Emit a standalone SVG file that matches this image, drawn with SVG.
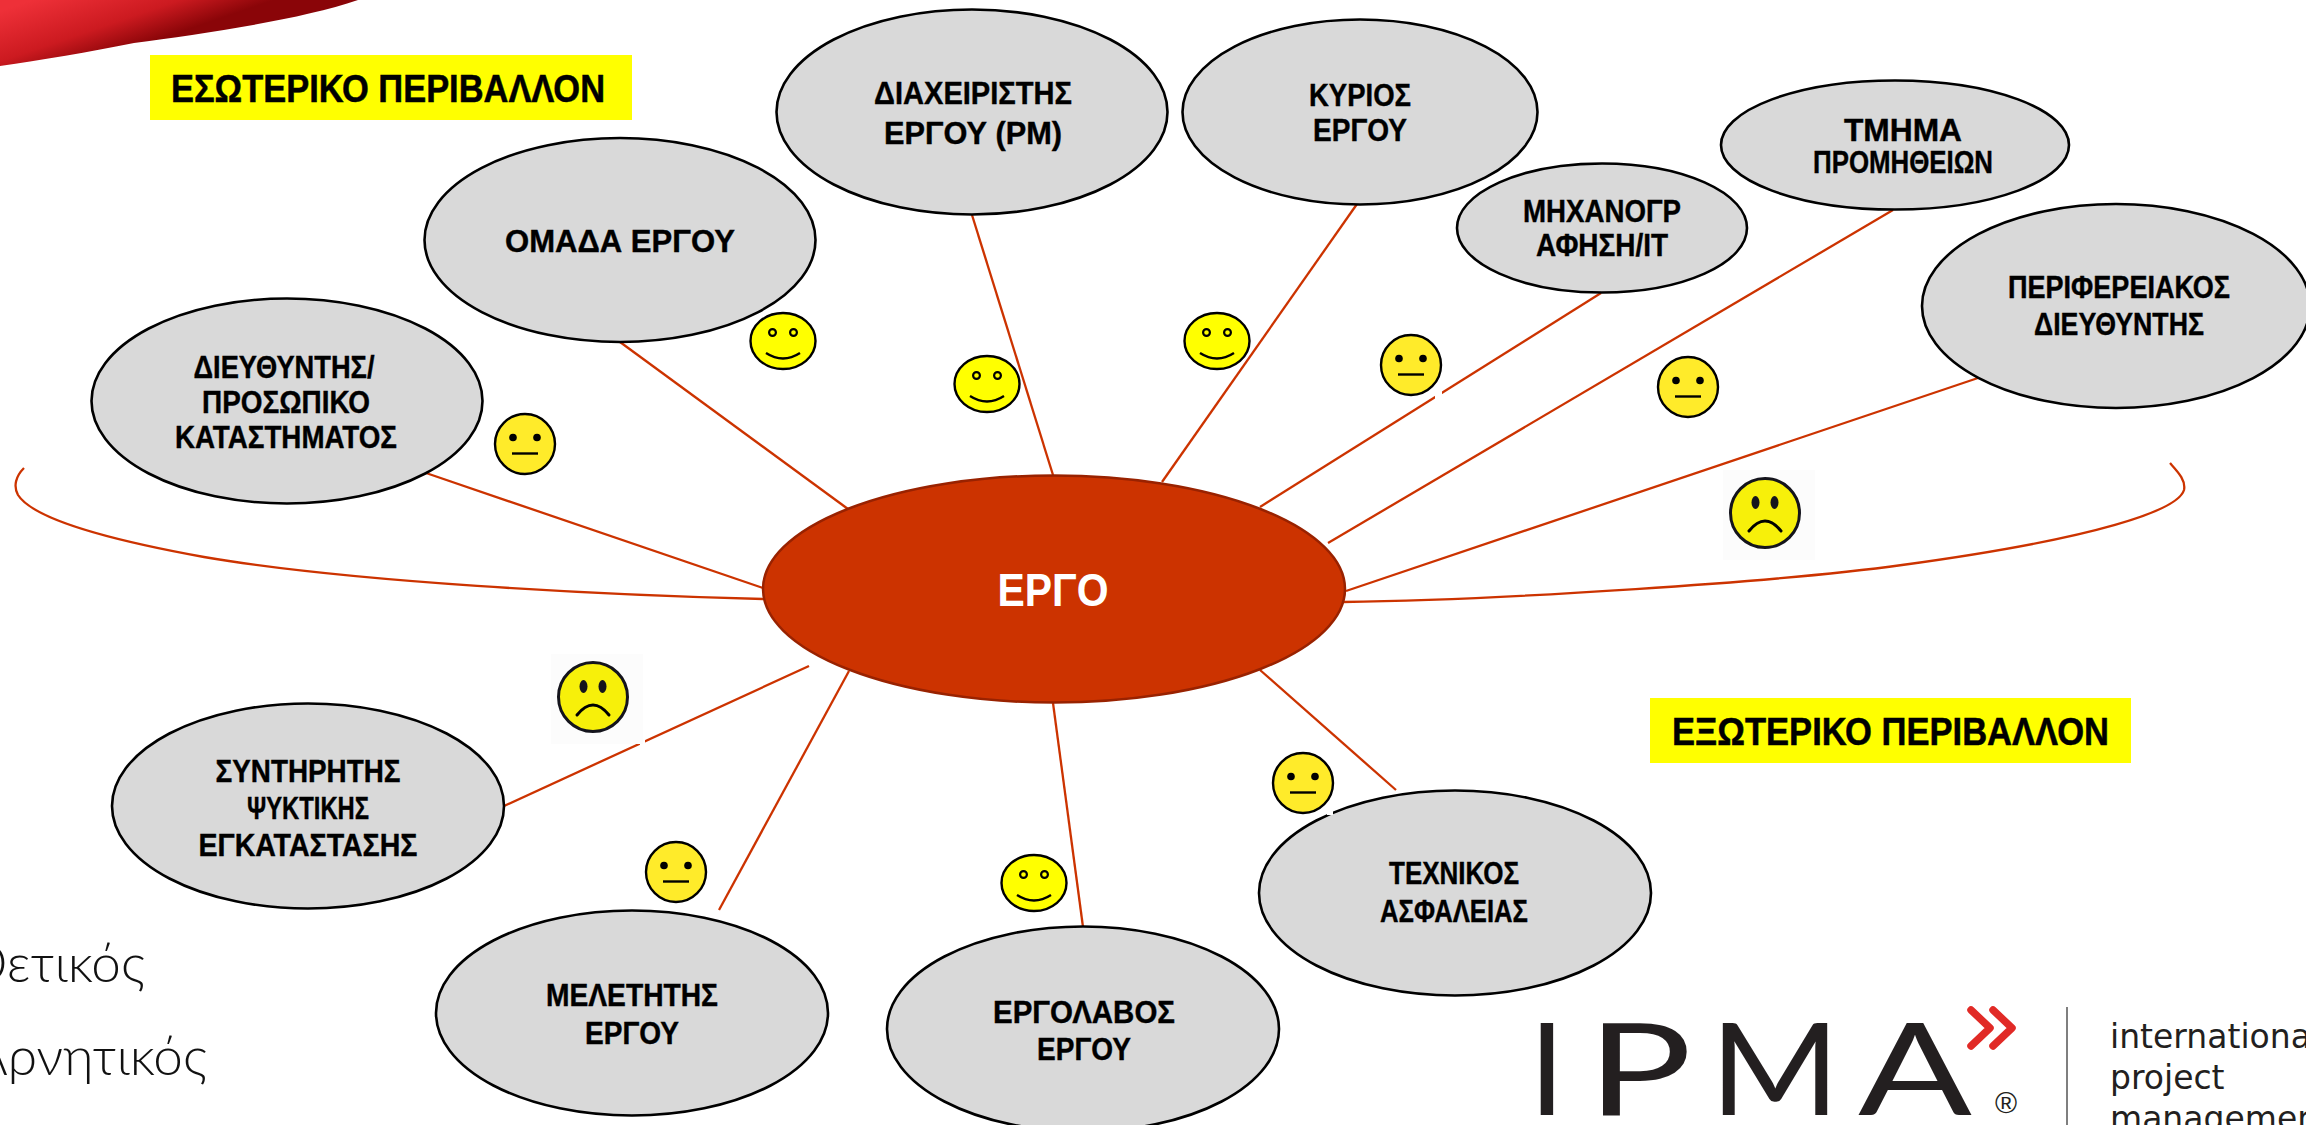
<svg xmlns="http://www.w3.org/2000/svg" width="2306" height="1125" viewBox="0 0 2306 1125">
<style>
.n{fill:#d9d9d9;stroke:#000;stroke-width:2.6}
.t{font-family:"Liberation Sans",Arial,sans-serif;font-weight:700;font-size:32px;fill:#000;stroke:#000;stroke-width:.4;text-anchor:middle}
.b{font-family:"Liberation Sans",Arial,sans-serif;font-weight:700;font-size:38px;fill:#000;stroke:#000;stroke-width:.5}
.c{stroke:#cc3300;stroke-width:2.3;fill:none}
.l{font-family:Lato,"Open Sans",sans-serif;font-weight:300;font-size:53px;fill:#111;text-anchor:end}
.k{stroke:#000;fill:none}
</style>
<defs>
<linearGradient id="sw" gradientUnits="userSpaceOnUse" x1="150" y1="-40" x2="178" y2="42">
<stop offset="0" stop-color="#ee3038"/><stop offset=".55" stop-color="#cc1a20"/><stop offset=".9" stop-color="#8a0508"/><stop offset="1" stop-color="#8a0508"/>
</linearGradient>
<g id="neutral"><circle r="30" fill="#ffeb2a" stroke="#000" stroke-width="2.4"/><circle cx="-12" cy="-6.5" r="3.8"/><circle cx="12" cy="-6.5" r="3.8"/><path class="k" stroke-width="2.4" d="M-13,9.5H13"/></g>
<g id="happy"><ellipse rx="32.5" ry="28" fill="#ffff00" stroke="#000" stroke-width="2.4"/><circle cx="-10.5" cy="-8.5" r="3.4" class="k" stroke-width="2.2"/><circle cx="10.5" cy="-8.5" r="3.4" class="k" stroke-width="2.2"/><path class="k" stroke-width="2.4" d="M-17,12Q0,23 17,12"/></g>
<g id="sad"><rect x="-42" y="-43" width="92" height="90" fill="#fcfcfc"/><circle r="34.5" fill="#f7f00a" stroke="#14141c" stroke-width="3"/><ellipse cx="-9.5" cy="-10.5" rx="4" ry="6.5" fill="#14141c"/><ellipse cx="9.5" cy="-10.5" rx="4" ry="6.5" fill="#14141c"/><path class="k" stroke="#14141c" stroke-width="3" stroke-linecap="round" d="M-16,18Q0,-2 16,18"/></g>
</defs>
<rect width="2306" height="1125" fill="#fff"/>
<path d="M0,0H358C300,20 200,34 134,43C90,52 40,60 0,66Z" fill="url(#sw)"/>

<g id="connectors">
<path class="c" d="M24,468C16,476 13,486 18,495C34,520 110,540 204,557C350,582 600,595 763,599"/>
<path class="c" d="M2170,463C2178,472 2186,480 2184,490C2178,510 2100,538 1902,565C1780,582 1500,600 1343,602"/>
<path class="c" d="M426,473L763,588"/>
<path class="c" d="M620,342L848,509"/>
<path class="c" d="M972,215L1053,475"/>
<path class="c" d="M1357,204L1162,482"/>
<path class="c" d="M1601,293L1260,507"/>
<path class="c" d="M1893,210L1328,543"/>
<path class="c" d="M1978,378L1346,591"/>
<path class="c" d="M504,806L809,666"/>
<path class="c" d="M719,910L849,671"/>
<path class="c" d="M1083,927L1053,703"/>
<path class="c" d="M1260,670L1396,790"/>
</g>

<g id="node-project"><ellipse cx="1054" cy="589" rx="291" ry="113.500" fill="#cc3300" stroke="#992200" stroke-width="2.500"/><text x="1053" y="606" textLength="111" lengthAdjust="spacingAndGlyphs" style="font-family:'Liberation Sans',Arial,sans-serif;font-weight:700;font-size:47px;fill:#fff;text-anchor:middle">ΕΡΓΟ</text></g>

<g id="node-team"><ellipse class="n" cx="620" cy="240" rx="195.500" ry="102"/><text class="t" x="620" y="252" textLength="230" lengthAdjust="spacingAndGlyphs">ΟΜΑΔΑ ΕΡΓΟΥ</text></g>
<g id="node-pm"><ellipse class="n" cx="972" cy="112" rx="195.500" ry="102.500"/><text class="t" x="973" y="104" textLength="198" lengthAdjust="spacingAndGlyphs">ΔΙΑΧΕΙΡΙΣΤΗΣ</text><text class="t" x="973" y="144" textLength="178" lengthAdjust="spacingAndGlyphs">ΕΡΓΟΥ (PM)</text></g>
<g id="node-owner"><ellipse class="n" cx="1360" cy="112" rx="177.500" ry="92.500"/><text class="t" x="1360" y="106" textLength="102" lengthAdjust="spacingAndGlyphs">ΚΥΡΙΟΣ</text><text class="t" x="1360" y="141" textLength="94" lengthAdjust="spacingAndGlyphs">ΕΡΓΟΥ</text></g>
<g id="node-it"><ellipse class="n" cx="1602" cy="228" rx="145" ry="64.500"/><text class="t" x="1602" y="222" textLength="158" lengthAdjust="spacingAndGlyphs">ΜΗΧΑΝΟΓΡ</text><text class="t" x="1602" y="256" textLength="132" lengthAdjust="spacingAndGlyphs">ΑΦΗΣΗ/IT</text></g>
<g id="node-purchasing"><ellipse class="n" cx="1895" cy="145" rx="174" ry="64.500"/><text class="t" x="1903" y="141" textLength="118" lengthAdjust="spacingAndGlyphs">ΤΜΗΜΑ</text><text class="t" x="1903" y="173" textLength="180" lengthAdjust="spacingAndGlyphs">ΠΡΟΜΗΘΕΙΩΝ</text></g>
<g id="node-regional"><ellipse class="n" cx="2116" cy="306" rx="194" ry="102"/><text class="t" x="2119" y="298" textLength="222" lengthAdjust="spacingAndGlyphs">ΠΕΡΙΦΕΡΕΙΑΚΟΣ</text><text class="t" x="2119" y="335" textLength="170" lengthAdjust="spacingAndGlyphs">ΔΙΕΥΘΥΝΤΗΣ</text></g>
<g id="node-store"><ellipse class="n" cx="287" cy="401" rx="195.500" ry="102.500"/><text class="t" x="284" y="378" textLength="181" lengthAdjust="spacingAndGlyphs">ΔΙΕΥΘΥΝΤΗΣ/</text><text class="t" x="286" y="413" textLength="168" lengthAdjust="spacingAndGlyphs">ΠΡΟΣΩΠΙΚΟ</text><text class="t" x="286" y="448" textLength="222" lengthAdjust="spacingAndGlyphs">ΚΑΤΑΣΤΗΜΑΤΟΣ</text></g>
<g id="node-maintainer"><ellipse class="n" cx="308" cy="806" rx="196" ry="102.500"/><text class="t" x="308" y="782" textLength="185" lengthAdjust="spacingAndGlyphs">ΣΥΝΤΗΡΗΤΗΣ</text><text class="t" x="308" y="819" textLength="122" lengthAdjust="spacingAndGlyphs">ΨΥΚΤΙΚΗΣ</text><text class="t" x="308" y="856" textLength="219" lengthAdjust="spacingAndGlyphs">ΕΓΚΑΤΑΣΤΑΣΗΣ</text></g>
<g id="node-designer"><ellipse class="n" cx="632" cy="1013" rx="196" ry="102.500"/><text class="t" x="632" y="1006" textLength="172" lengthAdjust="spacingAndGlyphs">ΜΕΛΕΤΗΤΗΣ</text><text class="t" x="632" y="1044" textLength="94" lengthAdjust="spacingAndGlyphs">ΕΡΓΟΥ</text></g>
<g id="node-contractor"><ellipse class="n" cx="1083" cy="1029" rx="196" ry="102.500"/><text class="t" x="1084" y="1023" textLength="182" lengthAdjust="spacingAndGlyphs">ΕΡΓΟΛΑΒΟΣ</text><text class="t" x="1084" y="1060" textLength="94" lengthAdjust="spacingAndGlyphs">ΕΡΓΟΥ</text></g>
<g id="node-safety"><ellipse class="n" cx="1455" cy="893" rx="196" ry="102.500"/><text class="t" x="1454" y="884" textLength="130" lengthAdjust="spacingAndGlyphs">ΤΕΧΝΙΚΟΣ</text><text class="t" x="1454" y="922" textLength="148" lengthAdjust="spacingAndGlyphs">ΑΣΦΑΛΕΙΑΣ</text></g>

<rect x="1435" y="391" width="7" height="8" fill="#fff"/>
<rect x="640" y="740" width="5" height="6" fill="#fff"/>
<rect x="1327" y="810" width="6" height="5" fill="#fff"/>

<g id="faces">
<use href="#happy" x="783" y="341"/>
<use href="#neutral" x="525" y="444"/>
<use href="#happy" x="987" y="384"/>
<use href="#happy" x="1217" y="341"/>
<use href="#neutral" x="1411" y="365"/>
<use href="#neutral" x="1688" y="387"/>
<use href="#sad" x="1765" y="513"/>
<use href="#sad" x="593" y="697"/>
<use href="#neutral" x="676" y="872"/>
<use href="#happy" x="1034" y="883"/>
<use href="#neutral" x="1303" y="783"/>
</g>

<g id="label-internal"><rect x="150" y="55" width="482" height="65" fill="#ffff00"/><text class="b" x="171" y="102" textLength="434" lengthAdjust="spacingAndGlyphs">ΕΣΩΤΕΡΙΚΟ ΠΕΡΙΒΑΛΛΟΝ</text></g>
<g id="label-external"><rect x="1650" y="698" width="481" height="65" fill="#ffff00"/><text class="b" x="1672" y="745" textLength="437" lengthAdjust="spacingAndGlyphs">ΕΞΩΤΕΡΙΚΟ ΠΕΡΙΒΑΛΛΟΝ</text></g>

<g id="legend"><text class="l" x="145" y="982">Θετικός</text><text class="l" x="207" y="1075">Αρνητικός</text></g>

<g id="logo">
<text y="1115" style="font-family:Lato,'Open Sans',sans-serif;font-weight:400;font-size:128px;fill:#231f20"><tspan x="1529">I</tspan><tspan x="1587" textLength="105" lengthAdjust="spacingAndGlyphs">P</tspan><tspan x="1710" textLength="130" lengthAdjust="spacingAndGlyphs">M</tspan><tspan x="1858" textLength="114" lengthAdjust="spacingAndGlyphs">A</tspan></text>
<path d="M1971,1010L1990,1028L1971,1046M1993,1010L2012,1028L1993,1046" fill="none" stroke="#e12a26" stroke-width="7.500" stroke-linecap="round" stroke-linejoin="round"/>
<text x="2006" y="1113" style="font-family:'Liberation Sans',Arial,sans-serif;font-size:30px;fill:#231f20;text-anchor:middle">®</text>
<path d="M2067,1007V1125" stroke="#555" stroke-width="1.500"/>
<g style="font-family:'DejaVu Sans',sans-serif;font-size:33px;fill:#231f20"><text x="2110" y="1048">international</text><text x="2110" y="1089">project</text><text x="2110" y="1130">management</text></g>
</g>
</svg>
